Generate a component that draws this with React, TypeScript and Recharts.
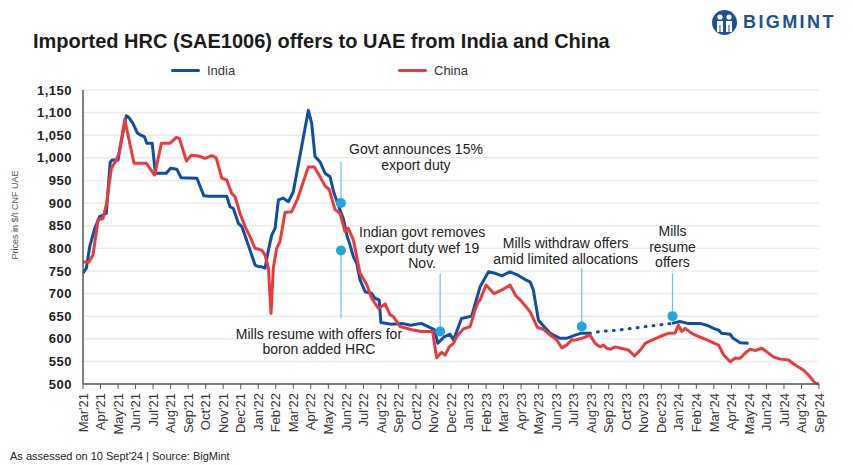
import {
  LineChart, Line, XAxis, YAxis, CartesianGrid,
  ReferenceLine, ReferenceDot,
} from 'recharts'

// month labels, one per x tick (x = months since Mar'21)
const MONTHS = [
  "Mar'21", "Apr'21", "May'21", "Jun'21", "Jul'21", "Aug'21", "Sep'21", "Oct'21", "Nov'21", "Dec'21",
  "Jan'22", "Feb'22", "Mar'22", "Apr'22", "May'22", "Jun'22", "Jul'22", "Aug'22", "Sep'22", "Oct'22", "Nov'22", "Dec'22",
  "Jan'23", "Feb'23", "Mar'23", "Apr'23", "May'23", "Jun'23", "Jul'23", "Aug'23", "Sep'23", "Oct'23", "Nov'23", "Dec'23",
  "Jan'24", "Feb'24", "Mar'24", "Apr'24", "May'24", "Jun'24", "Jul'24", "Aug'24", "Sep'24",
]

const Y_TICKS = [500, 550, 600, 650, 700, 750, 800, 850, 900, 950, 1000, 1050, 1100, 1150]

// [month, $/t]
const INDIA: [number, number][] = [
  [0, 745], [0.19, 756], [0.38, 803], [0.67, 844], [0.95, 870], [1.33, 877], [1.55, 990], [1.65, 995],
  [2.0, 995], [2.1, 1021], [2.47, 1093], [2.6, 1090], [2.85, 1076], [3.1, 1055], [3.3, 1050], [3.5, 1047],
  [3.65, 1032], [3.95, 1032], [4.13, 966], [4.75, 966], [5.0, 977], [5.35, 975], [5.6, 956], [6.5, 955],
  [6.9, 916], [7.2, 915], [8.2, 915], [8.39, 892], [8.58, 888], [8.87, 855], [9.06, 848], [9.34, 818],
  [9.82, 763], [10.0, 760], [10.2, 759], [10.39, 756], [10.58, 796], [10.77, 829], [10.96, 844], [11.15, 907],
  [11.43, 911], [11.72, 903], [12.0, 925], [12.86, 1105], [13.05, 1076], [13.24, 1003], [13.53, 991],
  [13.81, 966], [14.1, 958], [14.3, 925], [14.57, 895], [14.86, 865], [15.05, 830], [15.24, 807], [15.43, 781],
  [15.62, 767], [15.81, 730], [16.1, 704], [16.48, 700], [16.67, 689], [16.9, 686], [17.0, 636], [17.6, 632],
  [18.2, 634], [18.7, 630], [19.3, 634], [20.05, 620], [20.25, 590], [20.6, 604], [20.95, 610], [21.14, 597],
  [21.6, 645], [22.18, 650], [22.66, 715], [23.14, 748], [23.5, 745], [23.9, 739], [24.37, 748], [24.85, 740],
  [25.23, 731], [25.51, 726], [25.7, 708], [25.99, 641], [26.28, 628], [26.66, 612], [27.23, 601], [27.6, 601],
  [28.08, 608], [28.4, 612], [28.9, 612],
]

// no offers: dotted bridge
const INDIA_GAP: [number, number][] = [
  [28.9, 612], [29.5, 616], [30.5, 619], [33.6, 634],
]

const INDIA_LATE: [number, number][] = [
  [33.6, 634], [34.07, 638], [34.5, 634], [35.2, 634], [35.6, 630], [35.98, 623], [36.27, 619],
  [36.45, 612], [36.93, 610], [37.1, 601], [37.5, 591], [37.98, 590],
]

const CHINA: [number, number][] = [
  [0, 770], [0.34, 770], [0.57, 785], [0.86, 863], [1.14, 866], [1.33, 896], [1.62, 977], [1.9, 995],
  [2.09, 1014], [2.38, 1085], [2.91, 988], [3.61, 988], [4.09, 962], [4.47, 1032], [4.95, 1032], [5.33, 1045],
  [5.5, 1043], [5.9, 993], [6.18, 1006], [6.6, 1004], [6.96, 999], [7.35, 1005], [7.6, 1000], [7.92, 955],
  [8.2, 951], [8.49, 921], [8.68, 914], [8.96, 877], [9.25, 848], [9.53, 826], [9.82, 800], [10.2, 796],
  [10.39, 785], [10.58, 756], [10.73, 656], [10.86, 756], [11.05, 800], [11.24, 815], [11.53, 879], [11.91, 881],
  [12.25, 910], [12.86, 980], [13.2, 980], [13.53, 958], [13.81, 938], [14.05, 930], [14.38, 886], [14.67, 877],
  [14.95, 837], [15.14, 844], [15.43, 818], [15.81, 745], [16.19, 720], [16.48, 689], [16.86, 667], [17.24, 677],
  [17.52, 653], [17.71, 649], [18.1, 627], [18.76, 620], [19.3, 616], [19.95, 616], [20.18, 558], [20.47, 570],
  [20.66, 564], [20.9, 582], [21.14, 590], [21.33, 605], [21.71, 622], [22.09, 627], [22.37, 664], [22.56, 682],
  [22.66, 686], [23.0, 719], [23.45, 700], [23.9, 708], [24.37, 719], [24.7, 695], [25.04, 682], [25.51, 660],
  [25.93, 625], [26.28, 621], [26.66, 608], [27.04, 597], [27.32, 580], [27.6, 586], [27.89, 598], [28.08, 597],
  [28.46, 601], [28.94, 608], [29.22, 590], [29.5, 582], [29.7, 586], [29.89, 579], [30.1, 577], [30.37, 582],
  [30.7, 579], [31.13, 575], [31.47, 562], [31.8, 575], [32.08, 590], [32.46, 597], [32.93, 605], [33.4, 612],
  [33.79, 613], [33.98, 630], [34.17, 616], [34.36, 623], [34.74, 612], [35.12, 605], [35.5, 599], [35.98, 591],
  [36.27, 586], [36.56, 564], [36.93, 549], [37.2, 557], [37.5, 557], [37.78, 568], [38.07, 577], [38.36, 574],
  [38.74, 579], [39.02, 571], [39.4, 560], [39.78, 555], [40.26, 553], [40.64, 542], [41.11, 531], [41.4, 520],
  [41.78, 502], [42.0, 500],
]

const SERIES = [
  { name: 'India', color: '#0f4fa3' },
  { name: 'China', color: '#ec3a3c' },
]

// event markers: date, dot value, end of leader line, text
const EVENTS = [
  { m: 14.72, dot: 900, end: 992, lines: ['Govt announces 15%', 'export duty'], dx: 75, dy: -7 },
  { m: 14.72, dot: 795, end: 646, lines: ['Mills resume with offers for', 'boron added HRC'], dx: -22, dy: 21 },
  { m: 20.38, dot: 616, end: 745, lines: ['Indian govt removes', 'export duty wef 19', 'Nov.'], dx: -18, dy: -36 },
  { m: 28.46, dot: 627, end: 756, lines: ['Mills withdraw offers', 'amid limited allocations'], dx: -16, dy: -20 },
  { m: 33.64, dot: 650, end: 745, lines: ['Mills', 'resume', 'offers'], dx: 0, dy: -37 },
]

const BLUE = SERIES[0].color
const RED = SERIES[1].color
const CYAN = '#1fa6dc'
const FONT = "'Liberation Sans', Arial, Helvetica, sans-serif"

const rows = (pts: [number, number][]) => pts.map(([m, v]) => ({ m, v }))

const MonthTick = ({ x, y, payload }: any) => (
  <text
    x={x} y={y}
    transform={`rotate(-90 ${x} ${y})`}
    textAnchor="end"
    dy="0.36em"
    fontSize={13}
    fill="#333"
    fontFamily={FONT}
  >
    {MONTHS[payload.value]}
  </text>
)

function eventLabel(ev: typeof EVENTS[number]) {
  return (props: any) => {
    const vb = props.viewBox
    if (!vb) return null
    const endY = ev.end > ev.dot ? vb.y : vb.y + vb.height
    return (
      <text textAnchor="middle" fontSize={14} fill="#222" fontFamily={FONT}>
        {ev.lines.map((t, i) => (
          <tspan key={i} x={vb.x + ev.dx} y={endY + ev.dy + i * 15.5}>{t}</tspan>
        ))}
      </text>
    )
  }
}

function Logo() {
  return (
    <div style={{ position: 'absolute', left: 711, top: 9, display: 'flex', alignItems: 'center' }}>
      <svg width="27" height="27" viewBox="0 0 27 27">
        <circle cx="13.5" cy="13.5" r="12.5" fill="#1d4f91" />
        <circle cx="9" cy="8" r="2.6" fill="#fff" />
        <circle cx="18" cy="8" r="2.6" fill="#fff" />
        <path d="M6 12 h6 v11 h-2.5 v-7 h-1 v7 h-2.5z" fill="#fff" />
        <path d="M15 12 h6 v11 h-2.5 v-7 h-1 v7 h-2.5z" fill="#fff" />
      </svg>
      <span style={{ marginLeft: 5, fontFamily: FONT, fontWeight: 700, fontSize: 18, letterSpacing: 2.4, color: '#1d4f91' }}>
        BIGMINT
      </span>
    </div>
  )
}

export default function App() {
  return (
    <div style={{ position: 'absolute', left: 0, top: 0, width: 853, height: 465, background: '#fff', overflow: 'hidden' }}>
      <div style={{ position: 'absolute', left: 33, top: 30, fontFamily: FONT, fontWeight: 700, fontSize: 20, color: '#1b1b1b', whiteSpace: 'nowrap' }}>
        Imported HRC (SAE1006) offers to UAE from India and China
      </div>
      <Logo />

      {/* legend */}
      <div style={{ position: 'absolute', left: 171, top: 63, display: 'flex', fontFamily: FONT, fontSize: 13, color: '#333' }}>
        {SERIES.map(s => (
          <div key={s.name} style={{ display: 'flex', alignItems: 'center', width: 227 }}>
            <span style={{ display: 'inline-block', width: 29, height: 3.5, borderRadius: 2, background: s.color, marginRight: 7 }} />
            {s.name}
          </div>
        ))}
      </div>

      <div style={{
        position: 'absolute', left: 15, top: 215, transform: 'translate(-50%, -50%) rotate(-90deg)',
        fontFamily: FONT, fontSize: 9, color: '#555', whiteSpace: 'nowrap',
      }}>
        Prices in $/t CNF UAE
      </div>

      <LineChart width={853} height={465} margin={{ top: 90, right: 34, bottom: 26, left: 33 }}>
        <CartesianGrid vertical={false} stroke="#ebebeb" strokeWidth={1.5} />
        <XAxis
          dataKey="m"
          type="number"
          domain={[0, 42]}
          ticks={MONTHS.map((_, i) => i)}
          interval={0}
          tick={<MonthTick />}
          tickSize={5}
          tickMargin={4}
          height={55}
          axisLine={{ stroke: '#555', strokeWidth: 1.5 }}
          tickLine={{ stroke: '#555', strokeWidth: 1 }}
          allowDataOverflow
        />
        <YAxis
          type="number"
          domain={[500, 1150]}
          ticks={Y_TICKS}
          interval={0}
          width={50}
          tickFormatter={(v: number) => v.toLocaleString('en-US')}
          tick={{ fontSize: 13, fontWeight: 700, fill: '#222', fontFamily: FONT, letterSpacing: 0.5 }}
          tickLine={false}
          tickMargin={5}
          axisLine={{ stroke: '#555', strokeWidth: 1.5 }}
        />

        {EVENTS.map((ev, i) => (
          <ReferenceLine
            key={'l' + i}
            segment={[{ x: ev.m, y: ev.dot }, { x: ev.m, y: ev.end }]}
            stroke="#6cc3e3"
            strokeWidth={1.2}
            label={eventLabel(ev)}
          />
        ))}

        <Line data={rows(INDIA)} dataKey="v" name="India" stroke={BLUE} strokeWidth={3}
          dot={false} isAnimationActive={false} strokeLinejoin="round" />
        <Line data={rows(INDIA_GAP)} dataKey="v" name="India (no offers)" stroke={BLUE} strokeWidth={3}
          strokeDasharray="1 7" strokeLinecap="round" dot={false} isAnimationActive={false} />
        <Line data={rows(INDIA_LATE)} dataKey="v" name="India late" stroke={BLUE} strokeWidth={3}
          dot={false} isAnimationActive={false} strokeLinejoin="round" />
        <Line data={rows(CHINA)} dataKey="v" name="China" stroke={RED} strokeWidth={3}
          dot={false} isAnimationActive={false} strokeLinejoin="round" />

        {EVENTS.map((ev, i) => (
          <ReferenceDot key={'d' + i} x={ev.m} y={ev.dot} r={5} fill={CYAN} stroke="none" />
        ))}
      </LineChart>

      <div style={{ position: 'absolute', left: 10, top: 450, fontFamily: FONT, fontSize: 11, color: '#222', whiteSpace: 'nowrap' }}>
        As assessed on 10 Sept'24 | Source: BigMint
      </div>
    </div>
  )
}
